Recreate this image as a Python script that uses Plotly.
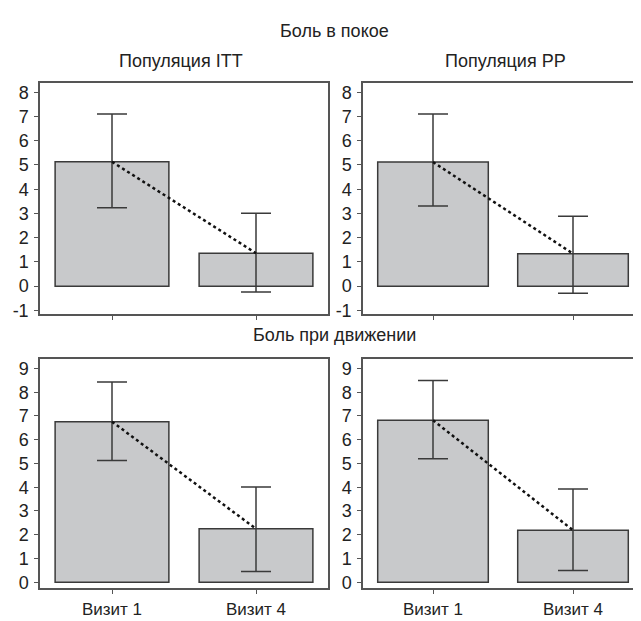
import plotly.graph_objects as go

categories = ["Визит 1", "Визит 4"]

# Боль в покое
itt_rest_mean = [5.13, 1.36]
itt_rest_upper = [7.10, 3.01]
itt_rest_lower = [3.23, -0.24]

pp_rest_mean = [5.12, 1.34]
pp_rest_upper = [7.10, 2.88]
pp_rest_lower = [3.31, -0.29]

# Боль при движении
itt_move_mean = [6.76, 2.25]
itt_move_upper = [8.43, 4.01]
itt_move_lower = [5.13, 0.45]

pp_move_mean = [6.82, 2.19]
pp_move_upper = [8.49, 3.93]
pp_move_lower = [5.20, 0.50]

rest_ticks = [-1, 0, 1, 2, 3, 4, 5, 6, 7, 8]
rest_tick_labels = ["-1", "0", "1", "2", "3", "4", "5", "6", "7", "8"]
move_ticks = [0, 1, 2, 3, 4, 5, 6, 7, 8, 9]
move_tick_labels = ["0", "1", "2", "3", "4", "5", "6", "7", "8", "9"]

FONT = "Liberation Sans, Arial, sans-serif"
BAR_FILL = "#c8c9cb"
DARK = "#3a3a3a"
TXT = "#222222"

fig = go.Figure()

panels = [
    (itt_rest_mean, itt_rest_upper, itt_rest_lower, "x", "y"),
    (pp_rest_mean, pp_rest_upper, pp_rest_lower, "x2", "y2"),
    (itt_move_mean, itt_move_upper, itt_move_lower, "x3", "y3"),
    (pp_move_mean, pp_move_upper, pp_move_lower, "x4", "y4"),
]

for mean, up, lo, xa, ya in panels:
    plus = [u - m for u, m in zip(up, mean)]
    minus = [m - l for m, l in zip(mean, lo)]
    fig.add_trace(go.Bar(
        x=categories, y=mean, xaxis=xa, yaxis=ya, width=0.79,
        marker=dict(color=BAR_FILL, line=dict(color=DARK, width=1.5)),
        error_y=dict(type="data", symmetric=False, array=plus, arrayminus=minus,
                     color=DARK, thickness=1.5, width=15),
        showlegend=False, hoverinfo="skip",
    ))
    fig.add_trace(go.Scatter(
        x=categories, y=mean, xaxis=xa, yaxis=ya, mode="lines",
        line=dict(color="#111111", width=2.5, dash="dot"),
        showlegend=False, hoverinfo="skip",
    ))

left_dom = [32 / 641, 320 / 641]
right_dom = [355 / 641, 635 / 641]
top_dom = [(621 - 309) / 621, (621 - 75) / 621]
bot_dom = [(621 - 587) / 621, (621 - 355) / 621]

axis_common = dict(showline=True, linecolor="#555555", linewidth=1.5, mirror=True,
                   ticks="outside", ticklen=4, tickcolor="#555555", tickwidth=1,
                   showgrid=False, zeroline=False,
                   tickfont=dict(family=FONT, size=18, color=TXT))

def xax(dom, anchor, labels):
    d = dict(axis_common)
    d.update(domain=dom, anchor=anchor, type="category", range=[-0.5, 1.5],
             showticklabels=labels, ticklabelstandoff=0,
             tickfont=dict(family=FONT, size=17, color=TXT))
    return d

def yax(dom, anchor, rng, ticks, labels):
    d = dict(axis_common)
    d.update(domain=dom, anchor=anchor, range=rng, tickvals=ticks, ticktext=labels,
             ticklabelstandoff=2)
    return d

fig.update_layout(
    width=641, height=621,
    margin=dict(l=0, r=0, t=0, b=0),
    paper_bgcolor="white", plot_bgcolor="white",
    font=dict(family=FONT, size=18, color=TXT),
    barmode="overlay",
    xaxis=xax(left_dom, "y", False),
    yaxis=yax(top_dom, "x", [-1.15, 8.38], rest_ticks, rest_tick_labels),
    xaxis2=xax(right_dom, "y2", False),
    yaxis2=yax(top_dom, "x2", [-1.15, 8.38], rest_ticks, rest_tick_labels),
    xaxis3=xax(left_dom, "y3", True),
    yaxis3=yax(bot_dom, "x3", [-0.26, 9.38], move_ticks, move_tick_labels),
    xaxis4=xax(right_dom, "y4", True),
    yaxis4=yax(bot_dom, "x4", [-0.26, 9.38], move_ticks, move_tick_labels),
)

ann = [
    ("Боль в покое", 326, 22),
    ("Популяция ITT", 173, 53),
    ("Популяция PP", 497, 53),
    ("Боль при движении", 326, 330),
]
for text, px, py in ann:
    fig.add_annotation(text=text, x=px / 641, y=1 - py / 621, xref="paper", yref="paper",
                       showarrow=False, xanchor="center", yanchor="middle",
                       font=dict(family=FONT, size=18, color=TXT))

fig.write_html("out.html")
